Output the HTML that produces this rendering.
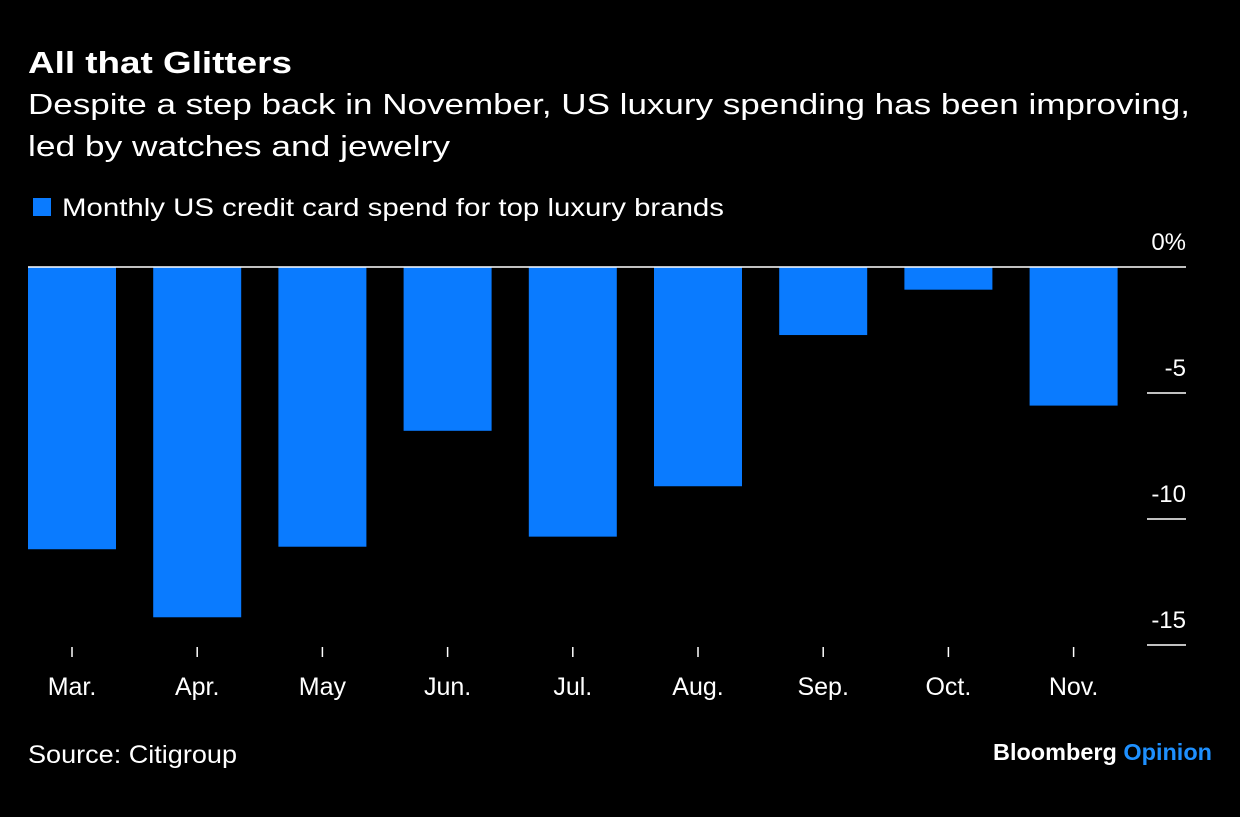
<!DOCTYPE html>
<html><head><meta charset="utf-8">
<style>
body{margin:0;background:#000;width:1240px;height:812px;overflow:hidden;font-family:"Liberation Sans",Arial,sans-serif;color:#fff}
</style></head>
<body>
<svg width="1240" height="812" viewBox="0 0 1240 812">
<rect width="1240" height="812" fill="#000"/>
<text x="28" y="73" font-size="31" font-weight="bold" fill="#fff" textLength="264" lengthAdjust="spacingAndGlyphs">All that Glitters</text>
<text x="28" y="114" font-size="29" fill="#fff" textLength="1162" lengthAdjust="spacingAndGlyphs">Despite a step back in November, US luxury spending has been improving,</text>
<text x="28" y="156" font-size="29" fill="#fff" textLength="422" lengthAdjust="spacingAndGlyphs">led by watches and jewelry</text>
<rect x="33" y="198" width="18" height="18" fill="#0a7bff"/>
<text x="62" y="216" font-size="25" fill="#fff" textLength="662" lengthAdjust="spacingAndGlyphs">Monthly US credit card spend for top luxury brands</text>
<g id="plot"></g>
<text x="28" y="763" font-size="25" fill="#fff" textLength="209" lengthAdjust="spacingAndGlyphs">Source: Citigroup</text>
<text x="993" y="760" font-size="23" font-weight="bold" fill="#fff" textLength="219" lengthAdjust="spacingAndGlyphs">Bloomberg <tspan fill="#1e90ff">Opinion</tspan></text>
</svg>
<script>
const categories=["Mar.","Apr.","May","Jun.","Jul.","Aug.","Sep.","Oct.","Nov."];
const values=[-11.2,-13.9,-11.1,-6.5,-10.7,-8.7,-2.7,-0.9,-5.5];
const tickValues=[0,-5,-10,-15];
const tickLabels=["0%","-5","-10","-15"];
const NS="http://www.w3.org/2000/svg";
const g=document.getElementById('plot');
function y(v){return 267-v*25.2;}
function xc(i){return 72+i*125.2;}
function mk(t,a){const e=document.createElementNS(NS,t);for(const k in a)e.setAttribute(k,a[k]);g.appendChild(e);return e;}
values.forEach((v,i)=>{
 const top=Math.min(y(0),y(v)),h=Math.abs(y(v)-y(0));
 const r=mk('rect',{x:xc(i)-44,y:top,width:88,height:h,fill:'#0a7bff'});
 
 
});
categories.forEach((c,i)=>{
 const l=mk('line',{x1:xc(i),x2:xc(i),y1:647,y2:657,stroke:'#fff','stroke-width':1.5});
 
 
 const t=mk('text',{x:xc(i),y:695,'font-size':25,fill:'#fff','text-anchor':'middle'});
 t.textContent=c;
 
 
});
tickValues.forEach((v,i)=>{
 if(v!==0){
  const l=mk('line',{x1:1147,x2:1186,y1:y(v),y2:y(v),stroke:'#fff','stroke-width':1.5});
  
  
 }
 const t=mk('text',{x:1186,y:y(v)-17,'font-size':24,fill:'#fff','text-anchor':'end'});
 t.textContent=tickLabels[i];
 
 
});
const z=mk('line',{x1:28,x2:1186,y1:y(0),y2:y(0),stroke:'#fff','stroke-width':1.5});


</script>
</body></html>
